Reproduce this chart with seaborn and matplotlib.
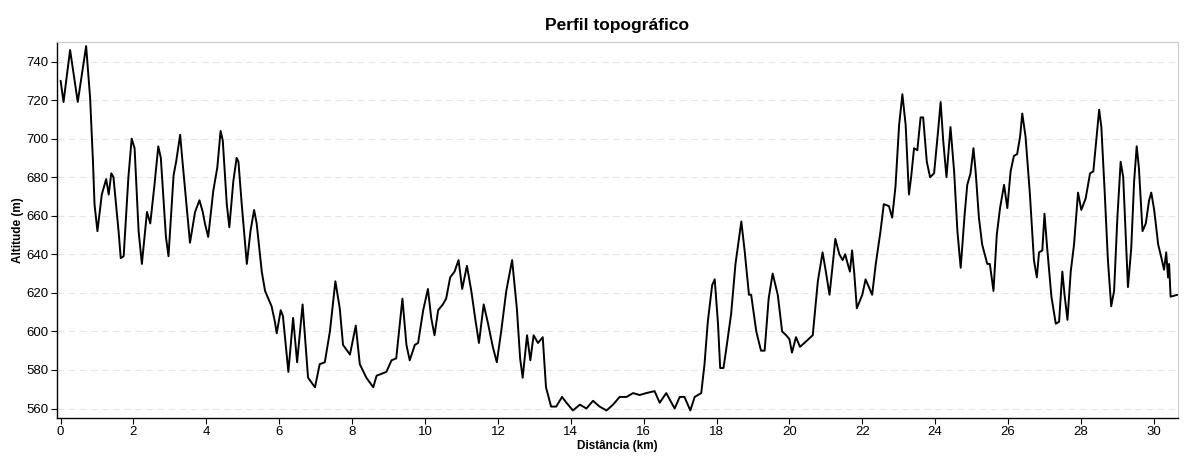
import seaborn as sns
import matplotlib.pyplot as plt
import pandas as pd

# distance (km) and altitude (m)
distancia = [
    0.00, 0.08, 0.26, 0.47, 0.70, 0.81, 0.89, 0.93, 1.01, 1.13, 1.25, 1.32, 1.39, 1.45,
    1.59, 1.65, 1.73, 1.86, 1.95, 2.03, 2.14, 2.23, 2.37, 2.46, 2.57, 2.68, 2.75, 2.89,
    2.96, 3.10, 3.17, 3.28, 3.35, 3.55, 3.69, 3.81, 3.90, 3.96, 4.05, 4.19, 4.30, 4.39,
    4.45, 4.56, 4.63, 4.74, 4.83, 4.88, 4.97, 5.11, 5.21, 5.31, 5.38, 5.52, 5.61, 5.70,
    5.79, 5.88, 5.93, 6.04, 6.10, 6.25, 6.38, 6.49, 6.64, 6.79, 6.98, 7.11, 7.25, 7.39,
    7.54, 7.66, 7.75, 7.94, 8.10, 8.21, 8.39, 8.58, 8.67, 8.94, 9.08, 9.21, 9.38, 9.49,
    9.58, 9.72, 9.81, 9.95, 10.08, 10.17, 10.26, 10.36, 10.49, 10.58, 10.69, 10.81, 10.92,
    11.02, 11.15, 11.27, 11.39, 11.48, 11.61, 11.73, 11.86, 11.97, 12.09, 12.23, 12.39,
    12.52, 12.61, 12.68, 12.80, 12.89, 12.98, 13.10, 13.23, 13.32, 13.46, 13.60, 13.76,
    13.88, 14.06, 14.25, 14.43, 14.61, 14.79, 14.98, 15.16, 15.34, 15.53, 15.71, 15.89,
    16.07, 16.30, 16.44, 16.62, 16.85, 16.99, 17.12, 17.28, 17.40, 17.58, 17.67, 17.76,
    17.88, 17.95, 18.04, 18.10, 18.19, 18.26, 18.40, 18.52, 18.68, 18.77, 18.89, 18.95,
    19.09, 19.22, 19.32, 19.43, 19.54, 19.68, 19.80, 19.91, 20.00, 20.07, 20.18, 20.29,
    20.41, 20.64, 20.78, 20.91, 21.00, 21.10, 21.19, 21.26, 21.37, 21.46, 21.53, 21.60,
    21.66, 21.72, 21.78, 21.85, 22.00, 22.09, 22.18, 22.27, 22.37, 22.50, 22.59, 22.73,
    22.82, 22.91, 23.01, 23.10, 23.19, 23.28, 23.34, 23.42, 23.51, 23.60, 23.67, 23.77,
    23.86, 23.97, 24.08, 24.15, 24.22, 24.31, 24.42, 24.52, 24.61, 24.70, 24.81, 24.88,
    24.97, 25.05, 25.11, 25.20, 25.29, 25.43, 25.50, 25.60, 25.69, 25.78, 25.89, 25.98,
    26.07, 26.16, 26.25, 26.33, 26.39, 26.48, 26.60, 26.71, 26.79, 26.85, 26.94, 27.00,
    27.07, 27.19, 27.31, 27.40, 27.49, 27.55, 27.63, 27.72, 27.81, 27.92, 28.01, 28.13,
    28.25, 28.34, 28.43, 28.50, 28.56, 28.65, 28.74, 28.83, 28.91, 29.00, 29.09, 29.16,
    29.23, 29.29, 29.38, 29.46, 29.53, 29.59, 29.69, 29.78, 29.87, 29.93, 30.01, 30.12,
    30.21, 30.28, 30.34, 30.39, 30.42, 30.46, 30.65,
]
altitude = [
    730, 719, 746, 719, 748, 721, 687, 666, 652, 671, 679, 671, 682, 680,
    652, 638, 639, 680, 700, 695, 652, 635, 662, 656, 675, 696, 690, 649,
    639, 681, 688, 702, 687, 646, 662, 668, 662, 656, 649, 673, 685, 704,
    699, 666, 654, 678, 690, 688, 666, 635, 652, 663, 656, 631, 621, 617,
    613, 605, 599, 611, 608, 579, 607, 584, 614, 576, 571, 583, 584, 600,
    626, 612, 593, 588, 603, 583, 576, 571, 577, 579, 585, 586, 617, 593,
    585, 593, 594, 611, 622, 607, 598, 611, 614, 617, 628, 631, 637,
    622, 634, 621, 605, 594, 614, 604, 592, 584, 600, 621, 637,
    612, 586, 576, 598, 585, 598, 594, 597, 571, 561, 561, 566,
    563, 559, 562, 560, 564, 561, 559, 562, 566, 566, 568, 567,
    568, 569, 563, 568, 560, 566, 566, 559, 566, 568, 583, 605,
    624, 627, 604, 581, 581, 590, 609, 635, 657, 642, 619, 619,
    600, 590, 590, 617, 630, 619, 600, 598, 596, 589, 597, 592,
    594, 598, 626, 641, 631, 619, 635, 648, 640, 637, 640, 635,
    631, 642, 630, 612, 619, 627, 623, 619, 635, 652, 666, 665,
    659, 675, 707, 723, 707, 671, 680, 695, 694, 711, 711, 688,
    680, 682, 704, 719, 699, 680, 706, 683, 652, 633, 661, 676,
    682, 695, 683, 659, 645, 635, 635, 621, 650, 664, 676, 664,
    683, 691, 692, 701, 713, 701, 671, 637, 628, 641, 642, 661,
    644, 618, 604, 605, 631, 619, 606, 631, 645, 672, 663, 669,
    682, 683, 701, 715, 706, 673, 637, 613, 621, 659, 688, 680,
    649, 623, 643, 678, 696, 685, 652, 656, 668, 672, 663, 645,
    638, 632, 641, 628, 635, 618, 619,
]
x_ticks = [0, 2, 4, 6, 8, 10, 12, 14, 16, 18, 20, 22, 24, 26, 28, 30]
y_ticks = [560, 580, 600, 620, 640, 660, 680, 700, 720, 740]

df = pd.DataFrame({"dist": distancia, "alt": altitude})

sns.set_theme(style="ticks")
plt.rcParams["font.family"] = ["Liberation Sans", "DejaVu Sans"]
plt.rcParams["text.color"] = "black"
plt.rcParams["axes.labelcolor"] = "black"
plt.rcParams["xtick.color"] = "black"
plt.rcParams["ytick.color"] = "black"

fig = plt.figure(figsize=(11.87, 4.59), dpi=100)
ax = fig.add_axes([0.048, 0.089, 0.944, 0.819])

sns.lineplot(data=df, x="dist", y="alt", ax=ax, color="black", linewidth=1.4)

ax.set_xlim(-0.1, 30.65)
ax.set_ylim(555, 750)
ax.set_xticks(x_ticks)
ax.set_yticks(y_ticks)
ax.tick_params(axis="both", labelsize=9.5, length=4, width=0.8, pad=2)
ax.yaxis.grid(True, linestyle=(0, (6, 4)), color="#e6e6e6", linewidth=0.8)

for side in ["left", "bottom"]:
    ax.spines[side].set_color("black")
    ax.spines[side].set_linewidth(1.0)
for side in ["top", "right"]:
    ax.spines[side].set_color("#cccccc")
    ax.spines[side].set_linewidth(0.8)

ax.set_title("Perfil topográfico", fontsize=12.5, fontweight="bold", pad=9)
ax.set_xlabel("Distância (km)", fontsize=8.5, fontweight="bold", labelpad=1)
ax.set_ylabel("Altitude (m)", fontsize=8.5, fontweight="bold", labelpad=2)

plt.savefig("out.png", dpi=100)
